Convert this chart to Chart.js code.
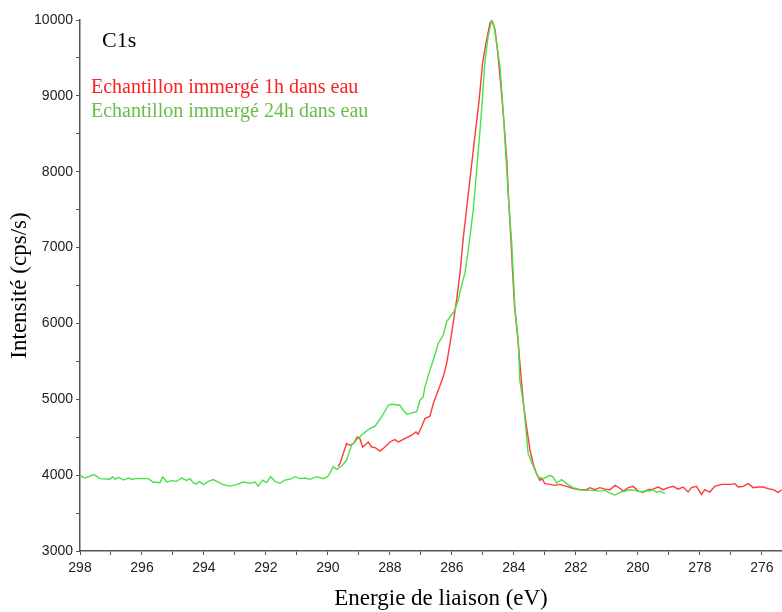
<!DOCTYPE html>
<html>
<head>
<meta charset="utf-8">
<script src="https://cdn.jsdelivr.net/npm/chart.js@4"></script>
<style>
  html, body { margin:0; padding:0; background:#fff; }
  #wrap { width:782px; height:612px; }
</style>
</head>
<body>
<div id="wrap"><canvas id="c" width="782" height="612"></canvas></div>
<script>
// energie de liaison (eV) / intensite (cps/s)
var greenE = [298.0,297.84,297.55,297.35,297.03,296.95,296.87,296.76,296.60,296.44,296.33,296.17,295.80,295.64,295.42,295.33,295.20,295.04,294.88,294.72,294.56,294.45,294.35,294.24,294.15,294.02,293.86,293.70,293.54,293.38,293.16,292.95,292.73,292.52,292.35,292.25,292.11,291.98,291.85,291.71,291.55,291.39,291.23,291.06,290.90,290.74,290.58,290.36,290.15,289.99,289.83,289.72,289.56,289.40,289.24,289.09,288.86,288.65,288.48,288.27,288.05,287.96,287.68,287.57,287.44,287.30,287.14,287.03,286.93,286.87,286.71,286.55,286.44,286.28,286.17,286.06,285.90,285.80,285.70,285.58,285.47,285.31,285.20,285.10,285.01,284.94,284.83,284.72,284.65,284.45,284.35,284.18,284.07,283.97,283.86,283.81,283.68,283.54,283.43,283.32,283.21,283.05,282.84,282.73,282.62,282.46,282.30,282.09,281.87,281.66,281.44,281.23,281.06,280.90,280.74,280.58,280.42,280.26,280.10,279.94,279.77,279.61,279.51,279.40,279.29,279.13];
var greenI = [3997,3962,4007,3954,3945,3980,3945,3971,3935,3962,3945,3954,3954,3909,3901,3975,3909,3927,3918,3962,3931,3954,3901,3882,3918,3875,3918,3941,3909,3875,3856,3875,3909,3892,3909,3856,3935,3901,3980,3918,3892,3935,3945,3980,3954,3962,3945,3980,3954,3988,4112,4077,4120,4196,4394,4460,4548,4614,4645,4767,4922,4935,4922,4856,4799,4820,4834,4988,5032,5164,5384,5583,5737,5847,6022,6088,6177,6309,6485,6662,6970,7498,8026,8511,8995,9436,9787,9990,9942,9391,8819,7674,7058,6221,5781,5252,4900,4284,4173,4063,3975,3954,3997,3975,3896,3941,3888,3835,3808,3799,3799,3790,3799,3764,3737,3773,3790,3808,3799,3782,3790,3790,3808,3773,3790,3756];

var redE = [289.68,289.61,289.40,289.29,289.18,289.05,288.97,288.88,288.81,288.70,288.59,288.48,288.32,288.16,288.00,287.84,287.73,287.52,287.30,287.16,287.09,286.98,286.87,286.71,286.60,286.44,286.28,286.17,286.06,285.96,285.85,285.74,285.64,285.53,285.37,285.26,285.12,285.01,284.90,284.77,284.71,284.61,284.52,284.41,284.31,284.23,284.17,284.09,284.04,283.98,283.87,283.76,283.68,283.59,283.48,283.38,283.27,283.16,283.10,283.00,282.84,282.68,282.52,282.30,282.09,281.87,281.66,281.55,281.39,281.23,281.06,280.90,280.74,280.64,280.47,280.31,280.15,279.99,279.83,279.67,279.51,279.35,279.18,279.02,278.86,278.70,278.54,278.38,278.27,278.11,277.95,277.84,277.68,277.52,277.30,277.03,276.87,276.76,276.60,276.44,276.28,276.12,275.96,275.80,275.63,275.47,275.36];
var redI = [4116,4152,4416,4394,4416,4503,4482,4371,4394,4437,4371,4363,4318,4371,4437,4469,4437,4482,4526,4569,4539,4635,4746,4777,4945,5120,5296,5473,5737,6001,6309,6662,7102,7498,8070,8466,8951,9436,9700,9964,9995,9876,9568,9083,8598,8158,7630,7058,6662,6221,5781,5252,4900,4635,4328,4152,4020,3931,3954,3888,3878,3865,3878,3852,3822,3808,3808,3835,3808,3835,3816,3808,3865,3843,3790,3835,3852,3790,3773,3808,3816,3843,3808,3835,3852,3816,3843,3777,3835,3852,3746,3808,3777,3852,3878,3878,3888,3843,3852,3888,3835,3843,3843,3822,3808,3773,3808];

var xMin = 275.35, xMax = 298;
var yMin = 3000, yMax = 10000;

var peakLabel = 'C1s';
var xTitle = 'Energie de liaison (eV)';
var seriesNames = ['Echantillon immergé 1h dans eau', 'Echantillon immergé 24h dans eau'];
var seriesColors = ['#ff3a3a', '#4be04b'];
var textColors = ['#ff2020', '#6cbc4a'];

function pts(xs, ys) {
    return xs.map(function(x, i) { return {x: x, y: ys[i]}; });
}

var serif = '"Times New Roman", "Liberation Serif", serif';
var sans = 'Arial, "Liberation Sans", sans-serif';

var labelsPlugin = {
    id: 'labels',
    afterDraw: function(chart) {
        var ctx = chart.ctx;
        ctx.save();
        ctx.textBaseline = 'middle';
        ctx.textAlign = 'left';
        ctx.fillStyle = '#000';
        ctx.font = '22px ' + serif;
        ctx.fillText(peakLabel, 102, 41);
        ctx.font = '20px ' + serif;
        ctx.fillStyle = textColors[0];
        ctx.fillText(seriesNames[0], 91, 88);
        ctx.fillStyle = textColors[1];
        ctx.fillText(seriesNames[1], 91, 112);
        // axis title, a bit right of the plot centre like the original
        ctx.fillStyle = '#000';
        ctx.textAlign = 'center';
        ctx.font = '23px ' + serif;
        ctx.fillText(xTitle, 441, 599);
        ctx.restore();
    }
};

new Chart(document.getElementById('c').getContext('2d'), {
    type: 'line',
    data: {
        datasets: [
            {label: seriesNames[1], data: pts(greenE, greenI), borderColor: seriesColors[1], borderWidth: 1.4, pointRadius: 0, tension: 0, fill: false},
            {label: seriesNames[0], data: pts(redE, redI), borderColor: seriesColors[0], borderWidth: 1.4, pointRadius: 0, tension: 0, fill: false}
        ]
    },
    options: {
        responsive: false,
        animation: false,
        layout: { padding: { top: 20, right: 0, left: 0, bottom: 0 } },
        plugins: { legend: { display: false }, tooltip: { enabled: false } },
        scales: {
            x: {
                type: 'linear',
                reverse: true,
                min: xMin,
                max: xMax,
                afterFit: function(s) { s.height = 61; },
                border: { display: true, color: '#555', width: 1.5 },
                grid: { drawOnChartArea: false, drawTicks: true, tickLength: 4, color: '#555' },
                ticks: {
                    stepSize: 1,
                    includeBounds: false,
                    autoSkip: false,
                    maxRotation: 0,
                    padding: 5,
                    color: '#222',
                    font: { family: sans, size: 14 },
                    callback: function(v) { return (Math.abs(v % 2) < 0.01) ? String(v) : ''; }
                },
                title: { display: false }
            },
            y: {
                min: yMin,
                max: yMax,
                afterFit: function(s) { s.width = 80; },
                border: { display: true, color: '#555', width: 1.5 },
                grid: { drawOnChartArea: false, drawTicks: true, tickLength: 4, color: '#555' },
                ticks: {
                    stepSize: 500,
                    autoSkip: false,
                    padding: 3,
                    color: '#222',
                    font: { family: sans, size: 14 },
                    callback: function(v) { return (v % 1000 === 0) ? String(v) : ''; }
                },
                title: { display: true, text: 'Intensité (cps/s)', color: '#000', font: { family: serif, size: 23 }, padding: { top: 6, bottom: 0 } }
            }
        }
    },
    plugins: [labelsPlugin]
});
</script>
</body>
</html>
